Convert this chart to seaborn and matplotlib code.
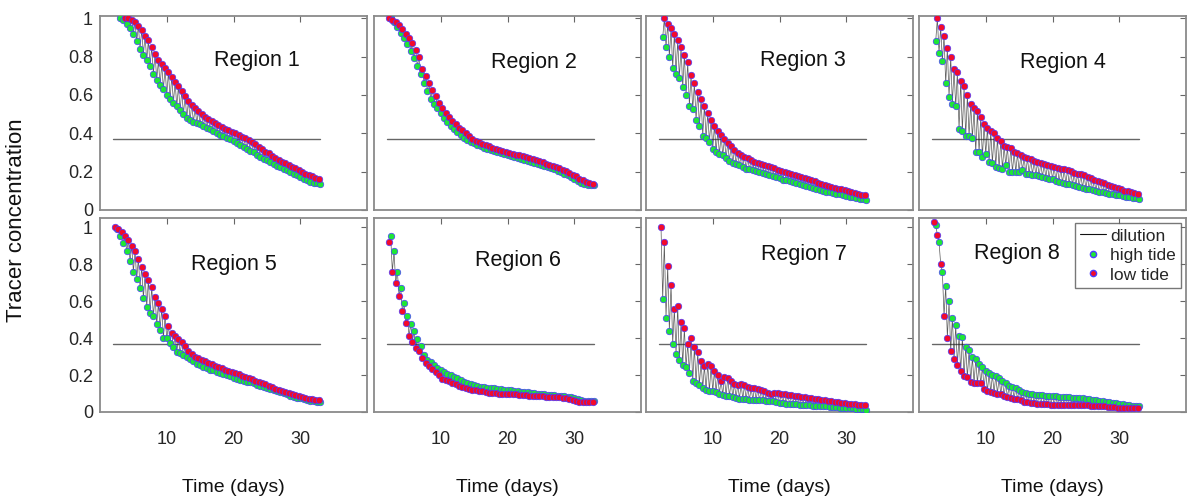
import numpy as np
import pandas as pd
import matplotlib
matplotlib.use("Agg")
import matplotlib.pyplot as plt
from matplotlib.lines import Line2D
import seaborn as sns

nan = float("nan")

# Sampling times (days): low-tide samples lead the high-tide samples by a quarter day
low_tide_days = np.arange(2.25, 33.0, 0.5)
high_tide_days = np.arange(2.5, 33.25, 0.5)

REGIONS = ["Region 1", "Region 2", "Region 3", "Region 4",
           "Region 5", "Region 6", "Region 7", "Region 8"]

# Tracer concentration at high tide / low tide for each region
HIGH_1 = [nan, 1.00, 0.99, 0.97, 0.95, 0.92, 0.88, 0.84, 0.81, 0.78,
          0.75, 0.71, 0.68, 0.65, 0.63, 0.60, 0.58, 0.56, 0.54, 0.52,
          0.50, 0.48, 0.47, 0.46, 0.455, 0.45, 0.44, 0.43, 0.42, 0.41,
          0.40, 0.39, 0.385, 0.375, 0.37, 0.36, 0.35, 0.34, 0.33, 0.32,
          0.31, 0.30, 0.285, 0.275, 0.265, 0.26, 0.25, 0.24, 0.23, 0.225,
          0.215, 0.21, 0.20, 0.19, 0.18, 0.17, 0.16, 0.155, 0.146, 0.143,
          0.14, 0.138]
LOW_1 = [nan, nan, nan, 1.00, 1.00, 0.99, 0.98, 0.96, 0.94, 0.91,
         0.885, 0.85, 0.815, 0.78, 0.76, 0.74, 0.72, 0.695, 0.67, 0.645,
         0.62, 0.595, 0.57, 0.55, 0.53, 0.515, 0.50, 0.485, 0.475, 0.465,
         0.455, 0.445, 0.435, 0.425, 0.415, 0.405, 0.40, 0.39, 0.38, 0.375,
         0.365, 0.355, 0.345, 0.33, 0.32, 0.305, 0.295, 0.28, 0.27, 0.26,
         0.25, 0.245, 0.235, 0.225, 0.22, 0.21, 0.20, 0.19, 0.18, 0.175,
         0.165, 0.16]

HIGH_2 = [1.00, 0.98, 0.955, 0.925, 0.895, 0.865, 0.83, 0.795, 0.75, 0.71,
          0.665, 0.62, 0.58, 0.555, 0.53, 0.505, 0.48, 0.46, 0.44, 0.42,
          0.405, 0.39, 0.378, 0.367, 0.357, 0.348, 0.34, 0.333, 0.326, 0.32,
          0.314, 0.308, 0.302, 0.296, 0.29, 0.286, 0.281, 0.277, 0.272, 0.268,
          0.263, 0.258, 0.252, 0.247, 0.242, 0.236, 0.23, 0.224, 0.218, 0.212,
          0.205, 0.198, 0.19, 0.182, 0.172, 0.162, 0.152, 0.143, 0.137, 0.133,
          0.13, 0.128]
LOW_2 = [1.00, 0.99, 0.98, 0.965, 0.945, 0.92, 0.895, 0.87, 0.835, 0.80,
         0.735, 0.70, 0.665, 0.625, 0.595, 0.56, 0.53, 0.505, 0.485, 0.465,
         0.45, 0.43, 0.415, 0.40, 0.385, 0.372, 0.362, 0.353, 0.345, 0.338,
         0.332, 0.326, 0.32, 0.314, 0.308, 0.302, 0.298, 0.294, 0.289, 0.285,
         0.28, 0.275, 0.27, 0.265, 0.26, 0.254, 0.248, 0.242, 0.236, 0.23,
         0.224, 0.217, 0.21, 0.203, 0.195, 0.185, 0.175, 0.164, 0.155, 0.147,
         0.141, 0.138]

HIGH_3 = [0.90, 0.85, 0.80, 0.74, 0.71, 0.69, 0.64, 0.60, 0.545, 0.525,
          0.47, 0.44, 0.388, 0.375, 0.355, 0.32, 0.305, 0.29, 0.285, 0.27,
          0.257, 0.245, 0.24, 0.233, 0.225, 0.215, 0.212, 0.207, 0.203, 0.198,
          0.193, 0.188, 0.183, 0.178, 0.172, 0.165, 0.159, 0.154, 0.149, 0.145,
          0.141, 0.136, 0.131, 0.126, 0.121, 0.116, 0.111, 0.106, 0.10, 0.095,
          0.092, 0.088, 0.085, 0.081, 0.078, 0.074, 0.07, 0.066, 0.062, 0.059,
          0.056, 0.054]
LOW_3 = [nan, 1.00, 0.97, 0.95, 0.92, 0.885, 0.85, 0.81, 0.77, 0.705,
         0.66, 0.615, 0.58, 0.545, 0.505, 0.47, 0.44, 0.41, 0.39, 0.372,
         0.35, 0.332, 0.315, 0.298, 0.287, 0.278, 0.27, 0.262, 0.253, 0.244,
         0.238, 0.234, 0.23, 0.225, 0.217, 0.21, 0.205, 0.20, 0.195, 0.19,
         0.184, 0.179, 0.173, 0.167, 0.161, 0.155, 0.149, 0.143, 0.137, 0.132,
         0.127, 0.122, 0.117, 0.112, 0.107, 0.102, 0.097, 0.093, 0.088, 0.084,
         0.08, 0.077]

HIGH_4 = [0.88, 0.82, 0.775, 0.66, 0.59, 0.555, 0.54, 0.42, 0.41, 0.385,
          0.385, 0.375, 0.30, 0.30, 0.276, 0.29, 0.25, 0.243, 0.226, 0.218,
          0.216, 0.235, 0.198, 0.198, 0.197, 0.20, 0.207, 0.187, 0.186, 0.185,
          0.18, 0.176, 0.172, 0.168, 0.163, 0.16, 0.153, 0.146, 0.141, 0.137,
          0.134, 0.13, 0.125, 0.12, 0.116, 0.111, 0.107, 0.103, 0.099, 0.095,
          0.092, 0.089, 0.086, 0.083, 0.079, 0.076, 0.072, 0.069, 0.066, 0.063,
          0.061, 0.059]
LOW_4 = [nan, 1.00, 0.955, 0.91, 0.845, 0.80, 0.735, 0.72, 0.675, 0.645,
         0.60, 0.555, 0.53, 0.515, 0.485, 0.448, 0.43, 0.41, 0.40, 0.375,
         0.36, 0.332, 0.328, 0.325, 0.302, 0.295, 0.285, 0.277, 0.272, 0.265,
         0.256, 0.25, 0.245, 0.24, 0.236, 0.23, 0.226, 0.22, 0.215, 0.213,
         0.21, 0.205, 0.193, 0.19, 0.186, 0.18, 0.172, 0.165, 0.159, 0.152,
         0.145, 0.139, 0.132, 0.126, 0.12, 0.115, 0.11, 0.10, 0.097, 0.093,
         0.089, 0.086]

HIGH_5 = [0.99, 0.955, 0.915, 0.87, 0.815, 0.76, 0.72, 0.67, 0.615, 0.57,
          0.535, 0.52, 0.475, 0.445, 0.40, 0.398, 0.376, 0.35, 0.327, 0.318,
          0.31, 0.30, 0.288, 0.274, 0.262, 0.253, 0.244, 0.237, 0.23, 0.225,
          0.219, 0.213, 0.207, 0.20, 0.193, 0.186, 0.179, 0.174, 0.169, 0.164,
          0.16, 0.155, 0.148, 0.141, 0.134, 0.128, 0.123, 0.117, 0.112, 0.107,
          0.101, 0.095, 0.088, 0.083, 0.078, 0.074, 0.069, 0.065, 0.061, 0.058,
          0.055, 0.053]
LOW_5 = [1.00, 0.99, 0.975, 0.955, 0.93, 0.90, 0.87, 0.83, 0.785, 0.745,
         0.715, 0.676, 0.625, 0.59, 0.56, 0.52, 0.467, 0.43, 0.41, 0.395,
         0.377, 0.355, 0.33, 0.315, 0.30, 0.292, 0.284, 0.276, 0.267, 0.258,
         0.25, 0.243, 0.237, 0.23, 0.223, 0.217, 0.21, 0.204, 0.197, 0.19,
         0.183, 0.176, 0.169, 0.163, 0.156, 0.15, 0.142, 0.135, 0.127, 0.12,
         0.114, 0.109, 0.103, 0.098, 0.092, 0.087, 0.081, 0.076, 0.072, 0.069,
         0.066, 0.063]

HIGH_6 = [0.95, 0.87, 0.76, 0.67, 0.59, 0.52, 0.475, 0.44, 0.395, 0.358,
          0.31, 0.284, 0.27, 0.255, 0.24, 0.228, 0.215, 0.205, 0.198, 0.19,
          0.182, 0.173, 0.164, 0.156, 0.15, 0.144, 0.139, 0.136, 0.134, 0.132,
          0.13, 0.128, 0.126, 0.124, 0.121, 0.119, 0.117, 0.115, 0.112, 0.11,
          0.108, 0.106, 0.103, 0.101, 0.099, 0.097, 0.095, 0.093, 0.092, 0.09,
          0.089, 0.087, 0.084, 0.082, 0.079, 0.075, 0.07, 0.065, 0.062, 0.06,
          0.059, 0.058]
LOW_6 = [0.92, 0.76, 0.70, 0.63, 0.545, 0.48, 0.41, 0.38, 0.345, 0.33,
         0.29, 0.267, 0.248, 0.233, 0.219, 0.199, 0.18, 0.172, 0.166, 0.158,
         0.15, 0.143, 0.136, 0.13, 0.123, 0.12, 0.117, 0.114, 0.111, 0.108,
         0.105, 0.103, 0.101, 0.10, 0.098, 0.098, 0.097, 0.096, 0.095, 0.094,
         0.092, 0.091, 0.089, 0.088, 0.087, 0.085, 0.084, 0.083, 0.082, 0.081,
         0.08, 0.079, 0.077, 0.074, 0.071, 0.067, 0.062, 0.056, 0.054, 0.053,
         0.053, 0.053]

HIGH_7 = [0.61, 0.51, 0.44, 0.37, 0.315, 0.28, 0.255, 0.244, 0.21, 0.168,
          0.155, 0.148, 0.128, 0.117, 0.113, 0.112, 0.11, 0.10, 0.092, 0.088,
          0.084, 0.081, 0.077, 0.073, 0.071, 0.069, 0.067, 0.066, 0.065, 0.064,
          0.063, 0.062, 0.062, 0.057, 0.052, 0.049, 0.048, 0.046, 0.045, 0.043,
          0.042, 0.04, 0.039, 0.037, 0.036, 0.035, 0.034, 0.032, 0.031, 0.03,
          0.028, 0.027, 0.025, 0.024, 0.023, 0.022, 0.022, 0.02, 0.018, 0.016,
          0.014, 0.013]
LOW_7 = [1.00, 0.92, 0.79, 0.69, 0.56, 0.575, 0.485, 0.455, 0.37, 0.40,
         0.35, 0.325, 0.275, 0.25, 0.262, 0.25, 0.222, 0.20, 0.17, 0.19,
         0.185, 0.168, 0.152, 0.148, 0.15, 0.145, 0.133, 0.13, 0.132, 0.127,
         0.12, 0.113, 0.104, 0.10, 0.105, 0.103, 0.10, 0.097, 0.094, 0.09,
         0.088, 0.085, 0.082, 0.08, 0.078, 0.075, 0.072, 0.069, 0.066, 0.063,
         0.06, 0.058, 0.055, 0.053, 0.05, 0.048, 0.046, 0.043, 0.041, 0.039,
         0.037, 0.036]

HIGH_8 = [1.01, 0.92, 0.76, 0.68, 0.60, 0.51, 0.47, 0.41, 0.405, 0.353,
          0.335, 0.295, 0.287, 0.262, 0.245, 0.222, 0.21, 0.202, 0.196, 0.185,
          0.17, 0.155, 0.142, 0.137, 0.132, 0.12, 0.106, 0.102, 0.099, 0.096,
          0.094, 0.093, 0.091, 0.089, 0.087, 0.085, 0.084, 0.083, 0.081, 0.08,
          0.079, 0.078, 0.077, 0.076, 0.074, 0.072, 0.07, 0.067, 0.064, 0.061,
          0.058, 0.055, 0.052, 0.05, 0.047, 0.044, 0.041, 0.039, 0.036, 0.034,
          0.032, 0.031]
LOW_8 = [1.03, 0.96, 0.80, 0.52, 0.40, 0.33, 0.285, 0.255, 0.22, 0.193,
         0.187, 0.165, 0.155, 0.156, 0.155, 0.125, 0.113, 0.107, 0.104, 0.10,
         0.097, 0.087, 0.079, 0.076, 0.073, 0.07, 0.066, 0.056, 0.053, 0.05,
         0.049, 0.046, 0.044, 0.042, 0.041, 0.04, 0.04, 0.04, 0.04, 0.04,
         0.04, 0.04, 0.04, 0.039, 0.038, 0.037, 0.036, 0.035, 0.034, 0.033,
         0.032, 0.031, 0.029, 0.026, 0.025, 0.024, 0.023, 0.022, 0.022, 0.022,
         0.022, 0.022]

HIGH = [HIGH_1, HIGH_2, HIGH_3, HIGH_4, HIGH_5, HIGH_6, HIGH_7, HIGH_8]
LOW = [LOW_1, LOW_2, LOW_3, LOW_4, LOW_5, LOW_6, LOW_7, LOW_8]

E_FOLD_LEVEL = float(np.exp(-1.0))   # 1/e residence threshold
E_FOLD_SPAN = (2.0, 33.0)

X_TICKS = [10, 20, 30]
Y_TICKS = [0, 0.2, 0.4, 0.6, 0.8, 1]
Y_TICK_LABELS = ["0", "0.2", "0.4", "0.6", "0.8", "1"]

# Styling / layout
GREEN = "#1ee636"
RED = "#f20a2c"
EDGE = "#4b3cff"
FRAME = "#8a8a8a"
LABEL_POS = [(23.5, 0.78), (24.0, 0.77), (23.5, 0.78), (21.6, 0.77),
             (20.0, 0.80), (21.5, 0.82), (23.7, 0.85), (14.7, 0.86)]

sns.set_style("white")
plt.rcParams["font.family"] = ["Liberation Sans", "DejaVu Sans"]

fig = plt.figure(figsize=(11.91, 5.01), dpi=100)
W, H = 1191.0, 501.0
lefts = [100, 374, 646, 919]
row_tops = [16, 218]
pw, ph = 267, 194

for i, name in enumerate(REGIONS):
    r, c = divmod(i, 4)
    ax = fig.add_axes([lefts[c] / W, 1 - (row_tops[r] + ph) / H, pw / W, ph / H])

    high = pd.DataFrame({"day": high_tide_days, "conc": HIGH[i], "kind": "high"})
    low = pd.DataFrame({"day": low_tide_days, "conc": LOW[i], "kind": "low"})
    both = pd.concat([high, low]).dropna().sort_values("day")

    # dilution curve alternating between successive low and high tides
    sns.lineplot(data=both, x="day", y="conc", ax=ax, color="#222222", lw=0.5,
                 alpha=0.75, sort=False, estimator=None, zorder=2)
    ax.plot(E_FOLD_SPAN, [E_FOLD_LEVEL, E_FOLD_LEVEL], color="#666666", lw=1.0, zorder=1)
    sns.scatterplot(data=high.dropna(), x="day", y="conc", ax=ax, color=GREEN,
                    edgecolor=EDGE, linewidth=0.5, s=22, zorder=3)
    sns.scatterplot(data=low.dropna(), x="day", y="conc", ax=ax, color=RED,
                    edgecolor=EDGE, linewidth=0.5, s=22, zorder=4)

    ax.set_xlim(0, 40)
    ax.set_ylim(0, 1.012 if r == 0 else 1.05)
    ax.set_xticks(X_TICKS)
    ax.set_yticks(Y_TICKS)
    ax.tick_params(direction="in", top=True, right=True, length=4, width=0.8,
                   color="#666666", labelsize=13, pad=5)
    if c == 0:
        ax.set_yticklabels(Y_TICK_LABELS)
    else:
        ax.set_yticklabels([])
    if r == 1:
        ax.set_xticklabels([str(t) for t in X_TICKS])
        ax.tick_params(axis="x", pad=14)
        ax.set_xlabel("Time (days)", fontsize=14, labelpad=22, color="#111111")
    else:
        ax.set_xticklabels([])
        ax.set_xlabel("")
    ax.set_ylabel("")
    for sp in ax.spines.values():
        sp.set_color(FRAME)
        sp.set_linewidth(1.3)
        sp.set_visible(True)

    ax.text(LABEL_POS[i][0], LABEL_POS[i][1], name, fontsize=15.5,
            ha="center", va="center", color="#111111")

    if i == 7:
        handles = [
            Line2D([0], [0], color="#111111", lw=0.8, label="dilution"),
            Line2D([0], [0], marker="o", ls="none", markerfacecolor=GREEN,
                   markeredgecolor=EDGE, markersize=4.5, label="high tide"),
            Line2D([0], [0], marker="o", ls="none", markerfacecolor=RED,
                   markeredgecolor=EDGE, markersize=4.5, label="low tide"),
        ]
        leg = ax.legend(handles=handles, loc="upper right", fontsize=12.5,
                        frameon=True, fancybox=False, borderpad=0.3,
                        labelspacing=0.25, handlelength=1.5, handletextpad=0.2,
                        borderaxespad=0.3)
        leg.get_frame().set_edgecolor("#555555")
        leg.get_frame().set_linewidth(1.0)

fig.text(17 / W, 1 - 220 / H, "Tracer concentration", rotation=90,
         ha="center", va="center", fontsize=16, color="#111111")

fig.savefig("out.png", dpi=100)
